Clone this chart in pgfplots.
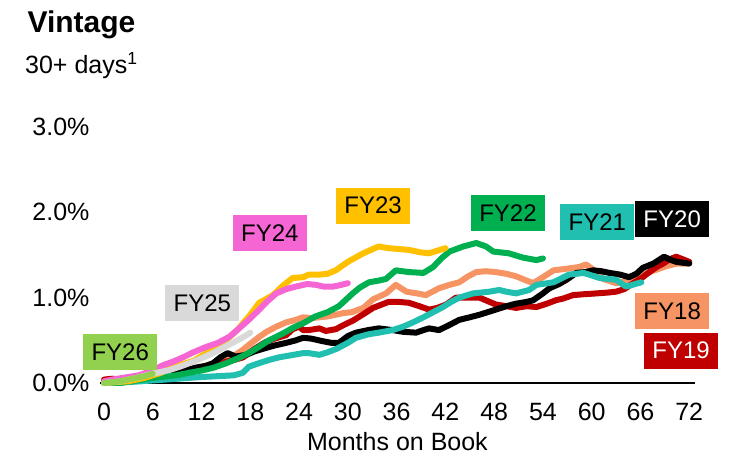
\documentclass[border=0pt]{standalone}
\usepackage{pgfplots}
\pgfplotsset{compat=1.18}
\usepackage{fontspec}
\setmainfont{Liberation Sans}

\definecolor{cFYa}{HTML}{F79464}% FY18
\definecolor{cFYb}{HTML}{C00000}% FY19
\definecolor{cFYc}{HTML}{000000}% FY20
\definecolor{cFYd}{HTML}{20BFB0}% FY21
\definecolor{cFYe}{HTML}{00B050}% FY22
\definecolor{cFYf}{HTML}{FFC000}% FY23
\definecolor{cFYg}{HTML}{F566D4}% FY24
\definecolor{cFYh}{HTML}{D9D9D9}% FY25
\definecolor{cFYi}{HTML}{92D050}% FY26

\begin{document}
\begin{tikzpicture}[font=\fontsize{25}{30}\selectfont]
\node[anchor=base west,font=\fontsize{30}{36}\selectfont\bfseries] at (24pt,422pt) {Vintage};
\node[anchor=base west,inner sep=0pt] at (25pt,381pt) {30+ days\textsuperscript{1}};

\begin{axis}[
    at={(104pt,72pt)}, anchor=origin,
    scale only axis,
    width=595pt, height=256pt,
    xmin=-0.5, xmax=72.7,
    ymin=0, ymax=3,
    axis x line=bottom,
    axis y line=left,
    y axis line style={draw=none},
    x axis line style={line width=1.6pt,-},
    major tick length=0pt,
    xtick={0,6,...,72},
    ytick={0,1,2,3},
    yticklabels={0.0\%,1.0\%,2.0\%,3.0\%},
    /pgf/number format/assume math mode=true,
    xticklabel style={anchor=base, yshift=-38pt},
    yticklabel style={xshift=-7pt},
    xlabel={Months on Book},
    xlabel style={at={(axis description cs:0.5,0)}, anchor=base, yshift=-68pt},
    clip=false,
    every axis plot/.append style={line width=6pt, line join=round, line cap=round},
  ]

% FY18
\addplot[cFYa] coordinates {
(0,0.03) (1,0.04) (2,0.03) (4,0.05) (6,0.08) (8,0.12) (10,0.15) (12,0.19)
(13.5,0.23) (15,0.27) (16,0.32) (17.1,0.39) (18,0.46) (19.1,0.54) (20,0.6)
(21.2,0.66) (22.4,0.71) (23.6,0.74) (24.5,0.77) (25.5,0.76) (26.5,0.77)
(27.5,0.78) (28.5,0.8) (29.5,0.82) (30.5,0.83) (31.9,0.88) (33.1,0.98)
(34.7,1.05) (35.9,1.15) (37.2,1.07) (38.5,1.05) (39.6,1.03) (41.2,1.11)
(42.5,1.15) (43.7,1.18) (44.8,1.25) (45.8,1.3) (47,1.31) (48.2,1.3)
(49.5,1.28) (50.7,1.25) (52,1.2) (52.8,1.17) (54,1.24) (55.3,1.32) (57,1.34)
(58.5,1.36) (59.3,1.39) (60.3,1.32) (61.4,1.22) (63,1.17) (64,1.19)
(65.1,1.23) (66,1.27) (67.1,1.3) (68,1.33) (69.2,1.37) (70.5,1.4) (72,1.4)
};
% FY19
\addplot[cFYb] coordinates {
(0,0.04) (1,0.05) (2,0.04) (3,0.03) (4,0.04) (6,0.08) (8,0.11) (10,0.14)
(12,0.17) (13.5,0.2) (15,0.25) (16,0.27) (17.1,0.3) (18.5,0.4) (19.9,0.48)
(21,0.52) (22.4,0.56) (23.2,0.63) (24,0.66) (24.5,0.62) (25.2,0.62)
(26.5,0.64) (27.3,0.61) (28.5,0.63) (29.5,0.68) (30.6,0.73) (31.8,0.8)
(33.1,0.88) (35,0.95) (36.3,0.95) (37.5,0.94) (38.8,0.9) (40,0.86) (41,0.88)
(42.1,0.92) (43.3,1.0) (44.5,1.0) (46.2,1.0) (47.2,0.96) (48.2,0.92)
(49.5,0.9) (50.7,0.88) (52,0.9) (53.2,0.89) (54.5,0.93) (55.6,0.97)
(56.5,0.99) (57.7,1.03) (59,1.04) (60.6,1.05) (62,1.06) (63,1.07) (64,1.1)
(65.1,1.17) (66,1.22) (67.1,1.3) (68,1.36) (68.8,1.4) (69.6,1.45)
(70.4,1.48) (71.2,1.45) (72,1.42)
};
% FY20
\addplot[cFYc] coordinates {
(0,0) (2,0.01) (4,0.03) (6,0.06) (7.5,0.1) (8.9,0.13) (10,0.15) (11.3,0.18)
(12.5,0.2) (13.4,0.23) (14.3,0.3) (15.2,0.35) (16.2,0.31) (17.5,0.33)
(18.5,0.37) (19.9,0.41) (21,0.44) (22.4,0.47) (23.6,0.5) (24.5,0.53)
(25.5,0.52) (26.9,0.49) (28,0.47) (28.9,0.47) (30,0.55) (31,0.59)
(32.5,0.62) (33.8,0.64) (35.5,0.62) (36.8,0.6) (38.4,0.59) (39.3,0.62)
(40,0.64) (41.2,0.62) (42.5,0.68) (43.7,0.74) (45,0.77) (46.2,0.8)
(47.2,0.83) (48.2,0.86) (49.5,0.9) (50.7,0.93) (52,0.95) (52.8,0.97)
(54,1.05) (54.8,1.11) (56,1.16) (56.9,1.21) (58.1,1.29) (59.2,1.3)
(60.2,1.32) (61.2,1.31) (62.2,1.29) (63.5,1.27) (64.6,1.24) (65.5,1.28)
(66.3,1.35) (67.6,1.4) (68.9,1.48) (69.8,1.44) (70.4,1.42) (72,1.4)
};
% FY21
\addplot[cFYd] coordinates {
(0,0) (3,0.01) (6,0.03) (9,0.05) (12,0.07) (14,0.08) (16,0.09) (17.1,0.12)
(17.8,0.19) (19,0.23) (20.3,0.27) (21.5,0.3) (23.3,0.33) (24.5,0.35)
(25.2,0.35) (26.5,0.33) (27.5,0.36) (28.6,0.4) (30,0.47) (31,0.53)
(32.5,0.57) (33.8,0.59) (35.5,0.62) (36.8,0.66) (38,0.71) (39.3,0.77)
(40.5,0.83) (41.7,0.89) (42.7,0.95) (43.7,1.0) (45.4,1.05) (47.4,1.07)
(48.6,1.09) (49.5,1.07) (50.7,1.05) (52.3,1.09) (53.2,1.15) (55.3,1.18)
(57.2,1.27) (59,1.29) (61,1.23) (63,1.21) (64.2,1.13) (65,1.15) (66.1,1.18)
};
% FY22
\addplot[cFYe] coordinates {
(0,0) (2,0.0) (4,0.03) (6,0.06) (8.9,0.09) (10.5,0.12) (12.2,0.15)
(13.5,0.18) (15,0.23) (16.5,0.29) (17.8,0.35) (19,0.42) (20.3,0.5) (22,0.58)
(23.3,0.65) (24.5,0.7) (26,0.78) (27.5,0.83) (28.9,0.9) (30.6,1.05)
(31.5,1.12) (32.6,1.18) (33.8,1.2) (34.7,1.22) (35.9,1.32) (37.5,1.3)
(39.3,1.29) (40.5,1.36) (41.5,1.46) (42.5,1.54) (44.2,1.6) (45.8,1.64)
(47,1.6) (47.9,1.54) (49.8,1.52) (51.5,1.47) (53.2,1.44) (54,1.46)
};
% FY23
\addplot[cFYf] coordinates {
(0,0) (3,0.02) (5,0.06) (7,0.12) (8.5,0.19) (10,0.23) (11,0.26) (12.6,0.35)
(14,0.43) (15,0.5) (16.5,0.63) (17.1,0.7) (18,0.8) (19.1,0.94) (20.8,1.03)
(22,1.14) (23.2,1.23) (24.5,1.24) (25.2,1.27) (26.5,1.27) (27.5,1.28)
(28.5,1.32) (30,1.42) (31.9,1.52) (33.8,1.6) (35,1.58) (37.5,1.56)
(39,1.53) (40,1.52) (41,1.55) (42,1.58)
};
% FY24
\addplot[cFYg] coordinates {
(0,0.02) (1,0.04) (3,0.07) (4.3,0.09) (6,0.15) (7.3,0.21) (8.5,0.25)
(9.7,0.3) (11,0.36) (12.5,0.42) (14,0.47) (15.4,0.54) (16.5,0.63)
(17.8,0.74) (19.1,0.86) (20,0.95) (21.2,1.05) (22.4,1.1) (23.6,1.13)
(25,1.16) (26.1,1.15) (27,1.13) (28.2,1.13) (29.2,1.15) (30,1.17)
};
% FY25
\addplot[cFYh] coordinates {
(0,0) (2,0.02) (4,0.06) (6,0.11) (8,0.15) (9.3,0.19) (11,0.25) (12.5,0.31)
(14,0.38) (15.4,0.45) (17,0.53) (18,0.59)
};
% FY26
\addplot[cFYi] coordinates {
(0,0) (1,0.01) (2,0.02) (3,0.04) (4,0.06) (5,0.08) (6,0.11)
};

\tikzset{fylab/.style={minimum width=74pt, minimum height=36pt, inner sep=0pt,
  font=\fontsize{24}{28}\selectfont}}
\node[fylab,fill=cFYi] at (axis cs:2.0,0.36) {FY26};
\node[fylab,fill=cFYh] at (axis cs:12.1,0.94) {FY25};
\node[fylab,fill=cFYg] at (axis cs:20.4,1.76) {FY24};
\node[fylab,fill=cFYf] at (axis cs:33.1,2.08) {FY23};
\node[fylab,fill=cFYe] at (axis cs:49.7,1.99) {FY22};
\node[fylab,fill=cFYd] at (axis cs:60.7,1.89) {FY21};
\node[fylab,fill=cFYc,text=white] at (axis cs:69.9,1.92) {FY20};
\node[fylab,fill=cFYa] at (axis cs:69.9,0.84) {FY18};
\node[fylab,fill=cFYb,text=white] at (axis cs:71.0,0.38) {FY19};
\end{axis}
\pgfresetboundingbox
\useasboundingbox (0,0) rectangle (748pt,455pt);
\end{tikzpicture}
\end{document}
